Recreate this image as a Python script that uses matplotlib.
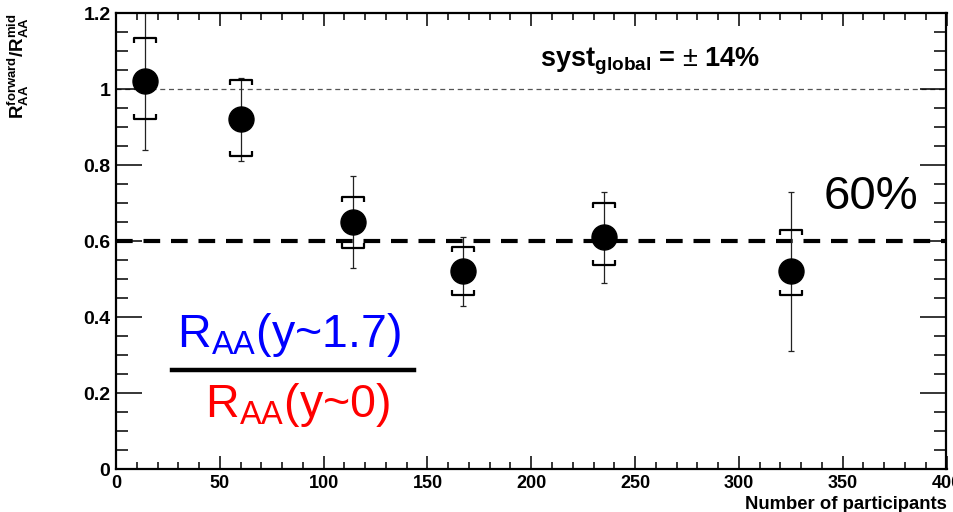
import matplotlib
matplotlib.use("Agg")
import matplotlib.pyplot as plt
from matplotlib.path import Path
import numpy as np

plt.rcParams['font.family'] = ['Liberation Sans', 'DejaVu Sans']
plt.rcParams['mathtext.fontset'] = 'custom'
plt.rcParams['mathtext.rm'] = 'Liberation Sans'
plt.rcParams['mathtext.it'] = 'Liberation Sans:italic'
plt.rcParams['mathtext.bf'] = 'Liberation Sans:bold'

# data
npart = [14, 60, 114, 167, 235, 325]
ratio = [1.02, 0.92, 0.65, 0.52, 0.61, 0.52]
stat_lo = [0.18, 0.11, 0.12, 0.09, 0.12, 0.21]
stat_hi = [0.20, 0.11, 0.12, 0.09, 0.12, 0.21]
syst_lo = [0.10, 0.097, 0.068, 0.062, 0.074, 0.061]
syst_hi = [0.115, 0.104, 0.067, 0.063, 0.09, 0.11]

ref_level = 0.6
unity = 1.0

fig = plt.figure(figsize=(9.54, 5.12), dpi=100)
ax = fig.add_axes([116 / 954, 43 / 512, 830.5 / 954, 456 / 512])
ax.set_xlim(0, 400)
ax.set_ylim(0, 1.2)

# reference lines
ax.plot([0, 400], [unity, unity], color='#555555', lw=0.9, dashes=(4, 3), zorder=1)
ax.plot([0, 400], [ref_level, ref_level], color='black', lw=3.0, dashes=(4, 2.6), zorder=1)

# stat errors
ax.errorbar(npart, ratio, yerr=[stat_lo, stat_hi], fmt='none', ecolor='#222222',
            elinewidth=0.9, capsize=2.2, capthick=0.9, zorder=2)

# syst brackets
top_br = Path([(-1, -0.45), (-1, 0), (1, 0), (1, -0.45)],
              [Path.MOVETO, Path.LINETO, Path.LINETO, Path.LINETO])
bot_br = Path([(-1, 0.45), (-1, 0), (1, 0), (1, 0.45)],
              [Path.MOVETO, Path.LINETO, Path.LINETO, Path.LINETO])
y_arr = np.array(ratio)
ax.plot(npart, y_arr + np.array(syst_hi), ls='none', marker=top_br, ms=16.5,
        mec='black', mew=1.6, mfc='none', zorder=3)
ax.plot(npart, y_arr - np.array(syst_lo), ls='none', marker=bot_br, ms=16.5,
        mec='black', mew=1.6, mfc='none', zorder=3)

# points
ax.plot(npart, ratio, 'o', color='black', ms=18, zorder=4)

# axes styling (ROOT look)
for s in ax.spines.values():
    s.set_linewidth(1.6)
ax.set_xticks(np.arange(0, 401, 50))
ax.set_xticks(np.arange(0, 401, 10), minor=True)
ax.set_yticks(np.arange(0, 1.21, 0.2))
ax.set_yticks(np.arange(0, 1.21, 0.05), minor=True)
ax.set_yticklabels(['0', '0.2', '0.4', '0.6', '0.8', '1', '1.2'])
ax.tick_params(axis='both', which='both', direction='in', top=True, right=True, width=1.1)
ax.tick_params(axis='x', which='major', length=9.5, pad=4, labelsize=13)
ax.tick_params(axis='x', which='minor', length=5)
ax.tick_params(axis='y', which='major', length=18.5, pad=4, labelsize=14)
ax.tick_params(axis='y', which='minor', length=8.5)
for lab in ax.get_xticklabels() + ax.get_yticklabels():
    lab.set_fontweight('bold')

ax.set_xlabel('Number of participants', fontsize=13.3, fontweight='bold', loc='right', labelpad=3)
ax.set_ylabel(r'$\mathbf{R_{AA}^{forward}/R_{AA}^{mid}}$', fontsize=13.5, loc='top', labelpad=38)

# annotations
ax.text(204, 1.059, r'syst$_{\mathbf{global}}$ = $\pm$ 14%', fontsize=19.5, fontweight='bold')
ax.text(340.7, 0.684, '60%', fontsize=34)
ax.text(29.4, 0.321, r'R$_{\mathrm{AA}}$(y~1.7)', fontsize=33.5, color='blue')
ax.plot([27, 143.6], [0.2605, 0.2605], color='black', lw=3.2)
ax.text(42.9, 0.1376, r'R$_{\mathrm{AA}}$(y~0)', fontsize=33.5, color='red')

fig.savefig('out.png', dpi=100)
